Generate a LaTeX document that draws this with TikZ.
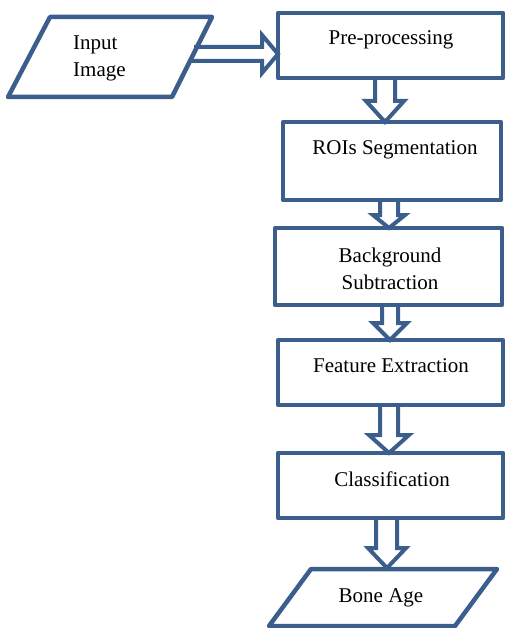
\documentclass[tikz,border=0pt]{standalone}
\usepackage{fontspec}
\setmainfont{Liberation Serif}
\usetikzlibrary{calc}
\definecolor{flowblue}{RGB}{59,94,140}
% #1 upper node, #2 lower node, #3 centre x, #4 shaft half width, #5 head half width, #6 head length
\newcommand\hollowdown[6]{%
  \draw[harrow] let \p1=(#1.south), \p2=(#2.north) in
    (#3pt-#4pt,\y1) -- (#3pt-#4pt,\y2+#6pt) -- (#3pt-#5pt,\y2+#6pt) -- (#3pt,\y2)
    -- (#3pt+#5pt,\y2+#6pt) -- (#3pt+#4pt,\y2+#6pt) -- (#3pt+#4pt,\y1);}
\begin{document}
\begin{tikzpicture}[x=1pt,y=-1pt,
  shapeline/.style={draw=flowblue,line width=4.5pt,line join=round},
  stepbox/.style={shapeline,rectangle,inner sep=0pt,outer sep=0pt},
  harrow/.style={draw=flowblue,line width=4pt,line join=miter},
  txt/.style={font=\fontsize{21}{27}\selectfont,inner sep=0pt,anchor=base}]
\useasboundingbox (0,0) rectangle (506,628);
% input parallelogram
\draw[shapeline] (50,17) -- (212,17) -- (172,97) -- (8,97) -- cycle;
\coordinate (inR) at (194,54);
\node[txt,anchor=base west] (in1) at (73,50) {Input};
\node[txt,anchor=base west] (in2) at (73,77) {Image};
% process boxes
\node[stepbox,minimum width=225pt,minimum height=65pt] (pre) at (390.5,45.5) {};
\node[stepbox,minimum width=218pt,minimum height=78pt] (roi) at (392,161) {};
\node[stepbox,minimum width=227pt,minimum height=77pt] (bg) at (388.5,266.5) {};
\node[stepbox,minimum width=225pt,minimum height=65pt] (fe) at (390.5,372.5) {};
\node[stepbox,minimum width=225pt,minimum height=65pt] (cl) at (390.5,485.5) {};
\node[txt] (preT) at (391,45) {Pre-processing};
\node[txt] (roiT) at (395,155) {ROIs Segmentation};
\node[txt] (bgT1) at (390,262) {Background};
\node[txt] (bgT2) at (390,289) {Subtraction};
\node[txt] (feT) at (391,372) {Feature Extraction};
\node[txt] (clT) at (392,486) {Classification};
% output parallelogram
\draw[shapeline] (311,569) -- (497,569) -- (455,626) -- (269,626) -- cycle;
\coordinate (baTop) at (387,569);
\node[txt] (baT) at (381,602) {Bone Age};
% hollow block arrows
\draw[harrow] let \p1=(inR), \p2=(pre.west) in
  (\x1,\y1+7pt) -- (\x2-16pt,\y1+7pt) -- (\x2-16pt,\y1+19pt) -- (\x2,\y1)
  -- (\x2-16pt,\y1-19pt) -- (\x2-16pt,\y1-7pt) -- (\x1-4pt,\y1-7pt);
\hollowdown{pre}{roi}{385}{10}{19}{21}
\hollowdown{roi}{bg}{389}{9}{16}{13}
\hollowdown{bg}{fe}{390}{8}{17}{17}
\hollowdown{fe}{cl}{389}{9}{20}{18}
\draw[harrow] let \p1=(cl.south), \p2=(baTop) in
  (\x2-11pt,\y1) -- (\x2-11pt,\y2+21pt) -- (\x2-19pt,\y2+21pt) -- (\x2,\y2+1pt)
  -- (\x2+19pt,\y2+21pt) -- (\x2+10pt,\y2+21pt) -- (\x2+10pt,\y1);
\end{tikzpicture}
\end{document}
